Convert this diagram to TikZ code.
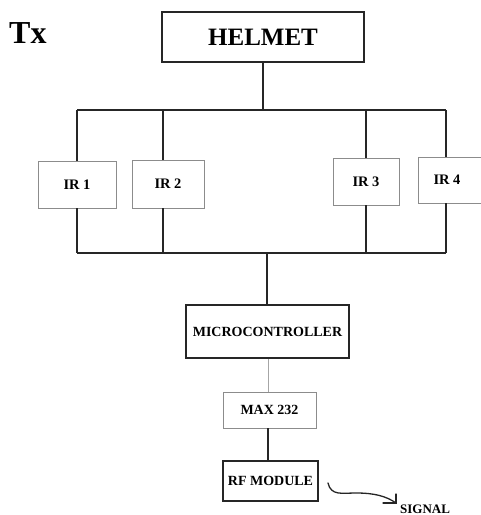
\documentclass[tikz,border=0pt]{standalone}
\usepackage{fontspec}
\setmainfont{Liberation Serif}
\usetikzlibrary{calc}
\begin{document}
\begin{tikzpicture}[x=1pt,y=-1pt,
  thickbox/.style={draw=black!85,line width=1.6pt,inner sep=0pt,font=\bfseries},
  thinbox/.style={draw=black!45,line width=0.9pt,inner sep=0pt,font=\bfseries\fontsize{14.5}{16}\selectfont},
  bus/.style={draw=black!85,line width=1.5pt},
  faint/.style={draw=black!35,line width=0.8pt}]
\useasboundingbox (0,0) rectangle (481,515);
% title
\node[anchor=base west,inner sep=0pt,font=\bfseries\fontsize{32}{34}\selectfont] (tx) at (9,43) {Tx};
% boxes
\node[thickbox,minimum width=202,minimum height=50,font=\bfseries\fontsize{25}{27}\selectfont] (helmet) at (263,37) {HELMET};
\node[thinbox,minimum width=78,minimum height=47] (ir1) at (77,184.5) {IR 1};
\node[thinbox,minimum width=72,minimum height=48] (ir2) at (168,184) {IR 2};
\node[thinbox,minimum width=66,minimum height=47] (ir3) at (366,181.5) {IR 3};
\node[thinbox,minimum width=70,minimum height=46] (ir4) at (453,180) {};
\node[inner sep=0pt,font=\bfseries\fontsize{14.5}{16}\selectfont] (ir4t) at (447,180) {IR 4};
\node[thickbox,minimum width=163,minimum height=53,font=\bfseries\fontsize{14}{16}\selectfont] (mcu) at (267.5,331.5) {MICROCONTROLLER};
\node[thinbox,minimum width=93,minimum height=36,font=\bfseries\fontsize{14}{16}\selectfont] (max) at (269.5,410) {MAX 232};
\node[thickbox,minimum width=95,minimum height=40,font=\bfseries\fontsize{14}{16}\selectfont] (rf) at (270.5,481) {RF MODULE};
\node[anchor=base west,inner sep=0pt,font=\bfseries\fontsize{13}{15}\selectfont] (signal) at (400,513) {SIGNAL};
% bus coordinates
\coordinate (tj) at (263,110);
\coordinate (tl) at (77,110);
\coordinate (tr) at (446,110);
\coordinate (bj) at (267,253);
\coordinate (bl) at (77,253);
\coordinate (br) at (446,253);
% top bus
\draw[bus] (helmet.south) -- (tj);
\draw[bus] (tl) -- (tr);
\draw[bus] (tl) -- (ir1.north);
\draw[bus] (163,110) -- (ir2.north -| 163,0);
\draw[bus] (ir3.north |- tl) -- (ir3.north);
\draw[bus] (tr) -- (ir4.north -| tr);
% bottom bus
\draw[bus] (ir1.south) -- (bl);
\draw[bus] (ir2.south -| 163,0) -- (163,253);
\draw[bus] (ir3.south) -- (ir3.south |- bl);
\draw[bus] (ir4.south -| br) -- (br);
\draw[bus] (bl) -- (br);
\draw[bus] (bj) -- (mcu.north -| bj);
% chain
\draw[faint] (mcu.south -| 268,0) -- (max.north -| 268,0);
\draw[bus] (max.south -| 268,0) -- (rf.north -| 268,0);
% signal squiggle
\coordinate (sigs) at (328,483);
\coordinate (sige) at (396,503);
\draw[line width=1.3pt,black!85,line cap=round] (sigs) .. controls (331,496) and (342,493) .. (356,493)
  .. controls (374,493) and (386,496) .. (sige);
\draw[line width=1.3pt,black!85,line cap=round,line join=miter] ($(sige)+(0,-9)$) -- (sige) -- ($(sige)+(-13,0)$);
\end{tikzpicture}
\end{document}
